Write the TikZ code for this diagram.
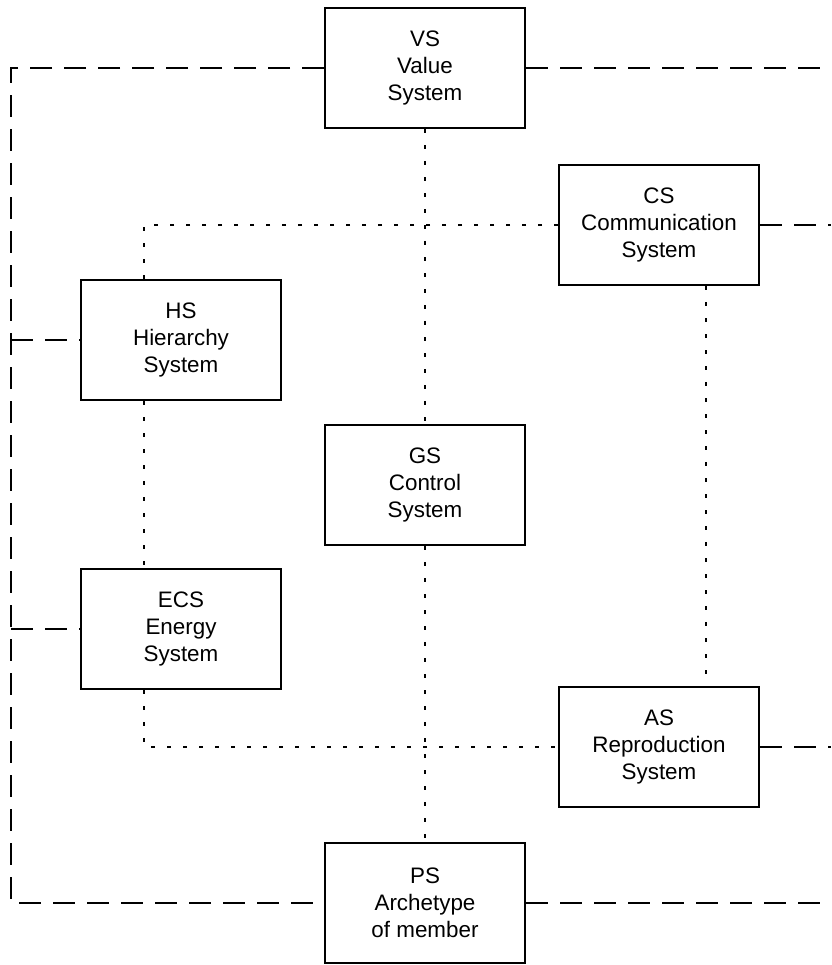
\documentclass[tikz,border=0pt]{standalone}
\usepackage{fontspec}
\setmainfont{Liberation Sans}
\usetikzlibrary{positioning}
\tikzset{
  sysbox/.style={
    rectangle, draw=black, line width=1pt, fill=white,
    minimum width=100pt, minimum height=60pt, inner sep=0pt,
    align=center, font=\fontsize{11.2}{13.4}\selectfont
  },
  link/.style={line width=1.2pt, draw=black, dash pattern=on 11pt off 6pt},
  tie/.style={line width=1.4pt, draw=black, dash pattern=on 1.8pt off 6.2pt}
}

\begin{document}
\begin{tikzpicture}[x=0.5pt, y=-0.5pt]
  \useasboundingbox (0,0) rectangle (831,965);

  % Subsystems
  \node[sysbox] (VS)  at (425,68)  {VS\\Value\\System};
  \node[sysbox] (CS)  at (659,225) {CS\\Communication\\System};
  \node[sysbox] (HS)  at (181,340) {HS\\Hierarchy\\System};
  \node[sysbox] (GS)  at (425,485) {GS\\Control\\System};
  \node[sysbox] (ECS) at (181,629) {ECS\\Energy\\System};
  \node[sysbox] (AS)  at (659,747) {AS\\Reproduction\\System};
  \node[sysbox] (PS)  at (425,903) {PS\\Archetype\\of member};

  % Frame corners and open ends
  \coordinate (tl) at (11,68);
  \coordinate (bl) at (11,903);
  \coordinate (redge) at (831,0);

  % Dashed frame
  \draw[link] (VS.west) -- (tl) -- (bl) -- (PS.west);
  \draw[link] (HS.west -| tl) -- (HS.west);
  \draw[link] (ECS.west -| tl) -- (ECS.west);
  \draw[link] (VS.east) -- (VS.east -| redge);
  \draw[link] (CS.east) -- (CS.east -| redge);
  \draw[link] (AS.east) -- (AS.east -| redge);
  \draw[link] (PS.east) -- (PS.east -| redge);

  % Dotted links
  \draw[tie] (VS.south) -- (GS.north);
  \draw[tie] (GS.south) -- (PS.north);
  \draw[tie] (CS.west) -| ([xshift=-18.5pt]HS.north);
  \draw[tie] ([xshift=-18.5pt]HS.south) -- ([xshift=-18.5pt]ECS.north);
  \draw[tie] ([xshift=-18.5pt]ECS.south) |- (AS.west);
  \draw[tie] ([xshift=23.5pt]CS.south) -- ([xshift=23.5pt]AS.north);
\end{tikzpicture}
\end{document}
